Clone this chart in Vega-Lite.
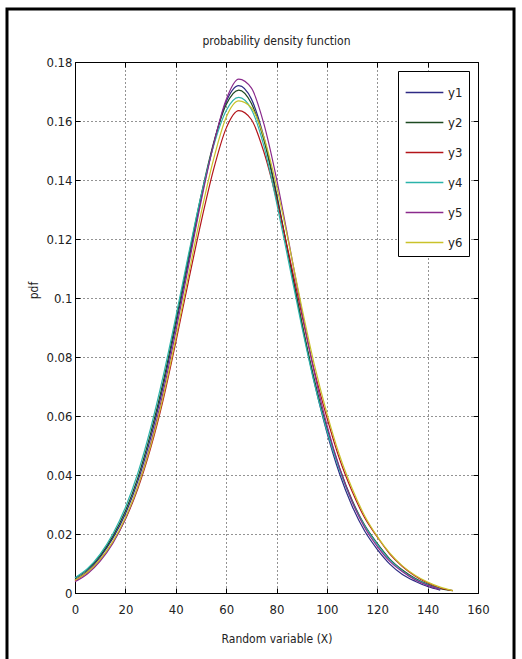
{
  "$schema": "https://vega.github.io/schema/vega-lite/v6.json",
  "width": 403,
  "height": 531,
  "autosize": {"type": "none"},
  "padding": {"left": 75, "top": 62, "right": 44, "bottom": 66},
  "background": "white",
  "config": {
    "font": "'DejaVu Sans Condensed', 'Liberation Sans', sans-serif",
    "view": {"stroke": "#000", "strokeWidth": 1}
  },
  "title": {"text": "probability density function", "fontSize": 12, "fontWeight": "normal", "color": "#222", "offset": -41, "anchor": "middle"},
  "layer": [
    {
      "data": {"values": [{"frame": "outer"}]},
      "mark": {"type": "rect", "fill": "transparent", "stroke": "#000", "strokeWidth": 3, "clip": false},
      "encoding": {
        "x": {"datum": -27, "type": "quantitative", "scale": {"domain": [0, 160], "nice": false},
              "axis": {"orient": "top", "values": [0, 20, 40, 60, 80, 100, 120, 140, 160], "labels": false, "domain": false, "grid": false, "tickSize": -5, "tickColor": "#000", "title": null}},
        "x2": {"datum": 174.3},
        "y": {"datum": 0.198, "type": "quantitative", "scale": {"domain": [0, 0.18], "nice": false, "zero": false},
              "axis": {"orient": "right", "values": [0, 0.02, 0.04, 0.06, 0.08, 0.1, 0.12, 0.14, 0.16, 0.18], "labels": false, "domain": false, "grid": false, "tickSize": -5, "tickColor": "#000", "title": null}},
        "y2": {"datum": -0.03}
      }
    },
    {
      "data": {"values": [
        {"x": 0, "y1": 0.0045, "y2": 0.005, "y3": 0.0042, "y4": 0.0052, "y5": 0.0038, "y6": 0.0043},
        {"x": 5, "y1": 0.0075, "y2": 0.008, "y3": 0.007, "y4": 0.0083, "y5": 0.0065, "y6": 0.0071},
        {"x": 10, "y1": 0.0122, "y2": 0.0127, "y3": 0.0113, "y4": 0.0132, "y5": 0.0108, "y6": 0.0114},
        {"x": 15, "y1": 0.0185, "y2": 0.0192, "y3": 0.0172, "y4": 0.02, "y5": 0.0168, "y6": 0.0174},
        {"x": 20, "y1": 0.0268, "y2": 0.0278, "y3": 0.025, "y4": 0.029, "y5": 0.0252, "y6": 0.0255},
        {"x": 25, "y1": 0.038, "y2": 0.0392, "y3": 0.0355, "y4": 0.0408, "y5": 0.0362, "y6": 0.0362},
        {"x": 30, "y1": 0.0525, "y2": 0.054, "y3": 0.049, "y4": 0.0558, "y5": 0.0505, "y6": 0.0498},
        {"x": 35, "y1": 0.07, "y2": 0.0715, "y3": 0.0655, "y4": 0.0735, "y5": 0.068, "y6": 0.0665},
        {"x": 40, "y1": 0.0905, "y2": 0.092, "y3": 0.085, "y4": 0.0935, "y5": 0.0885, "y6": 0.0862},
        {"x": 45, "y1": 0.112, "y2": 0.1135, "y3": 0.1055, "y4": 0.1145, "y5": 0.1105, "y6": 0.1075},
        {"x": 50, "y1": 0.1335, "y2": 0.1345, "y3": 0.1255, "y4": 0.1345, "y5": 0.1325, "y6": 0.1285},
        {"x": 55, "y1": 0.152, "y2": 0.1525, "y3": 0.1435, "y4": 0.1515, "y5": 0.152, "y6": 0.147},
        {"x": 60, "y1": 0.1665, "y2": 0.1655, "y3": 0.1575, "y4": 0.1635, "y5": 0.1672, "y6": 0.1612},
        {"x": 65, "y1": 0.172, "y2": 0.1705, "y3": 0.1635, "y4": 0.168, "y5": 0.1742, "y6": 0.1668},
        {"x": 70, "y1": 0.1675, "y2": 0.166, "y3": 0.1605, "y4": 0.164, "y5": 0.1712, "y6": 0.1645},
        {"x": 75, "y1": 0.1545, "y2": 0.1535, "y3": 0.1495, "y4": 0.1515, "y5": 0.159, "y6": 0.1545},
        {"x": 80, "y1": 0.1355, "y2": 0.1348, "y3": 0.1335, "y4": 0.1325, "y5": 0.1405, "y6": 0.138},
        {"x": 85, "y1": 0.1135, "y2": 0.1135, "y3": 0.1145, "y4": 0.1115, "y5": 0.1185, "y6": 0.118},
        {"x": 90, "y1": 0.0915, "y2": 0.092, "y3": 0.0945, "y4": 0.0905, "y5": 0.0958, "y6": 0.097},
        {"x": 95, "y1": 0.0715, "y2": 0.0725, "y3": 0.0755, "y4": 0.0712, "y5": 0.0748, "y6": 0.0775},
        {"x": 100, "y1": 0.0545, "y2": 0.056, "y3": 0.0595, "y4": 0.055, "y5": 0.057, "y6": 0.061},
        {"x": 105, "y1": 0.0405, "y2": 0.0425, "y3": 0.0455, "y4": 0.0418, "y5": 0.0425, "y6": 0.0468},
        {"x": 110, "y1": 0.0295, "y2": 0.0315, "y3": 0.0345, "y4": 0.031, "y5": 0.031, "y6": 0.0355},
        {"x": 115, "y1": 0.021, "y2": 0.023, "y3": 0.0255, "y4": 0.0228, "y5": 0.0222, "y6": 0.0262},
        {"x": 120, "y1": 0.0148, "y2": 0.0168, "y3": 0.019, "y4": 0.0165, "y5": 0.0158, "y6": 0.0192},
        {"x": 125, "y1": 0.0098, "y2": 0.0115, "y3": 0.0132, "y4": 0.0112, "y5": 0.0107, "y6": 0.0135},
        {"x": 130, "y1": 0.0063, "y2": 0.0078, "y3": 0.009, "y4": 0.0075, "y5": 0.0072, "y6": 0.0092},
        {"x": 135, "y1": 0.004, "y2": 0.005, "y3": 0.0058, "y4": 0.0047, "y5": 0.0045, "y6": 0.006},
        {"x": 140, "y1": 0.0022, "y2": 0.003, "y3": 0.0035, "y4": 0.0028, "y5": 0.0026, "y6": 0.0037},
        {"x": 145, "y1": 0.001, "y2": 0.0015, "y3": 0.0017, "y4": 0.0013, "y5": 0.0012, "y6": 0.002},
        {"x": 150, "y2": 0.0008, "y3": 0.0008, "y6": 0.0008}
      ]},
      "transform": [
        {"fold": ["y1", "y2", "y3", "y4", "y5", "y6"], "as": ["series", "pdf"]},
        {"filter": "isValid(datum.pdf)"}
      ],
      "mark": {"type": "line", "interpolate": "monotone", "strokeWidth": 1.2},
      "encoding": {
        "x": {"field": "x", "type": "quantitative", "scale": {"domain": [0, 160], "nice": false},
              "axis": {"orient": "bottom", "title": "Random variable (X)", "values": [0, 20, 40, 60, 80, 100, 120, 140, 160], "format": "d",
                       "grid": true, "gridDash": [1, 3], "gridColor": "#000", "gridOpacity": 0.85,
                       "domainColor": "#000", "tickColor": "#000", "tickSize": -5, "labelPadding": 15,
                       "labelFontSize": 13, "labelColor": "#222", "titleFontSize": 12, "titleFontWeight": "normal", "titleColor": "#222", "titlePadding": 17, "labelFlush": false}},
        "y": {"field": "pdf", "type": "quantitative", "scale": {"domain": [0, 0.18], "nice": false, "zero": false},
              "axis": {"orient": "left", "title": "pdf", "values": [0, 0.02, 0.04, 0.06, 0.08, 0.1, 0.12, 0.14, 0.16, 0.18], "format": ".2~f",
                       "grid": true, "gridDash": [1, 3], "gridColor": "#000", "gridOpacity": 0.85,
                       "domainColor": "#000", "tickColor": "#000", "tickSize": -5, "labelPadding": 8,
                       "labelFontSize": 13, "labelColor": "#222", "titleFontSize": 12, "titleFontWeight": "normal", "titleColor": "#222",
                       "titleX": -42, "titleY": 228, "titleAngle": 270, "titleBaseline": "middle", "titleAlign": "center", "labelFlush": false}},
        "color": {"field": "series", "type": "nominal",
                  "scale": {"domain": ["y1", "y2", "y3", "y4", "y5", "y6"], "range": ["#2e2a84", "#1d4a22", "#b3141a", "#2bb3aa", "#8a2a8c", "#c9c22a"]},
                  "legend": {"orient": "top-right", "offset": 9, "title": null, "strokeColor": "#000", "fillColor": "#fff", "padding": 6,
                             "rowPadding": 7, "symbolType": "M-1.3,0H1.3", "symbolSize": 841, "symbolStrokeWidth": 1.5, "symbolOffset": 5, "labelFontSize": 13,
                             "labelColor": "#222", "labelOffset": 8}}
      }
    }
  ],
  "resolve": {"axis": {"x": "independent", "y": "independent"}}
}
